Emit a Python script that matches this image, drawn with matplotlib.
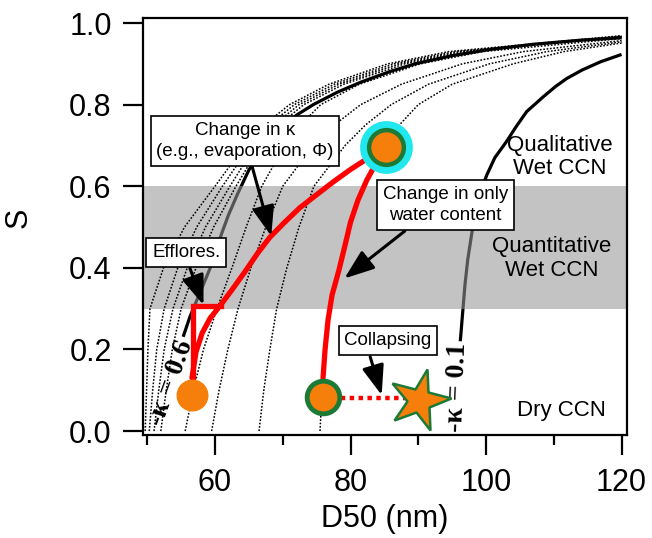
import matplotlib
matplotlib.use("Agg")
import matplotlib.pyplot as plt
from matplotlib.markers import MarkerStyle
from matplotlib.transforms import Affine2D

plt.rcParams['font.family'] = ['Liberation Sans', 'DejaVu Sans']

# dotted kappa family: D50 (nm) read at these S levels, plus S where each reaches D=120
dot_S = [0.0, 0.1, 0.2, 0.3, 0.4, 0.5, 0.6, 0.7, 0.75, 0.8, 0.85, 0.9, 0.93]
dotted_D = [
    [49.7, 49.9, 50.1, 50.4, 52.4, 55.5, 60.0, 64.4, 67.2, 71.0, 76.8, 85.5, 94.5],
    [50.3, 50.8, 51.4, 52.5, 54.5, 57.3, 61.1, 65.2, 68.0, 71.7, 77.6, 86.4, 95.5],
    [51.0, 51.7, 52.5, 53.8, 55.9, 58.6, 62.2, 66.0, 68.7, 72.4, 78.3, 87.2, 96.3],
    [52.0, 52.8, 53.7, 55.0, 57.2, 59.8, 63.1, 66.7, 69.4, 73.1, 79.0, 88.0, 97.2],
    [55.6, 56.8, 58.3, 60.3, 62.5, 64.6, 66.9, 70.3, 72.6, 75.6, 81.3, 90.3, 99.5],
    [59.5, 60.6, 61.9, 63.4, 65.3, 67.5, 70.0, 74.5, 77.6, 81.5, 87.5, 96.5, 105.5],
    [66.5, 67.2, 68.1, 69.1, 70.6, 72.4, 74.6, 79.2, 82.2, 86.0, 91.5, 100.5, 109.0],
    [75.5, 75.8, 76.4, 77.0, 78.3, 79.7, 82.0, 85.3, 87.2, 90.0, 95.0, 104.0, 111.5],
]
dotted_S_end = [0.969, 0.968, 0.967, 0.966, 0.962, 0.957, 0.954, 0.951]

# solid labelled curves
k06_D = [55.3, 56.3, 57.3, 58.3, 59.3, 60.3, 61.0, 62.0, 63.3, 65.0, 67.4, 70.3, 72.1,
         74.5, 78.0, 81.5, 85.8, 89.5, 95.0, 100.5, 107.0, 114.0, 120.0]
k06_S = [0.231, 0.28, 0.32, 0.36, 0.40, 0.45, 0.485, 0.53, 0.58, 0.64, 0.70, 0.75, 0.775,
         0.80, 0.83, 0.855, 0.881, 0.90, 0.92, 0.935, 0.948, 0.958, 0.964]
k01_D = [96.2, 96.6, 96.9, 97.3, 97.9, 98.7, 99.5, 100.1, 101.3, 103.0, 104.4, 106.0,
         108.5, 110.3, 111.9, 114.2, 116.9, 120.0]
k01_S = [0.22, 0.30, 0.36, 0.42, 0.485, 0.55, 0.60, 0.627, 0.67, 0.709, 0.745, 0.783,
         0.82, 0.845, 0.864, 0.885, 0.905, 0.923]

# red paths
red1_D = [56.6, 57.2, 58.1, 59.3, 60.7, 62.5, 64.4, 66.3, 68.1, 70.3, 72.5, 74.9, 77.4,
          79.9, 82.6, 85.2]
red1_S = [0.130, 0.194, 0.240, 0.277, 0.306, 0.346, 0.390, 0.436, 0.475, 0.512, 0.547,
          0.578, 0.610, 0.640, 0.669, 0.696]
red2_D = [75.94, 76.24, 76.68, 77.27, 78.3, 79.2, 80.0, 81.1, 82.4, 83.8, 85.2]
red2_S = [0.130, 0.199, 0.272, 0.333, 0.395, 0.456, 0.512, 0.566, 0.615, 0.657, 0.696]
efflo_D = [56.8, 56.8, 60.9]
efflo_S = [0.13, 0.306, 0.306]
collapse_D = [76.0, 88.0]
collapse_S = [0.080, 0.080]

# markers
dry_pt = (56.55, 0.088)
wet_pt = (76.0, 0.084)
drop_pt = (85.3, 0.697)
star_pt = (90.07, 0.076)

band = (0.3, 0.6)
xmajor = [60, 80, 100, 120]
xminor = [50, 70, 90, 110]
yticks = [0.0, 0.2, 0.4, 0.6, 0.8, 1.0]

fig = plt.figure(figsize=(6.52, 5.38), dpi=100)
ax = fig.add_axes([0.2193, 0.1914, 0.7424, 0.7751])
ax.set_xlim(49.37, 120.81)
ax.set_ylim(-0.0098, 1.0123)

ax.plot(k06_D, k06_S, color='black', lw=2.3, zorder=1, solid_capstyle='butt')
ax.plot(k01_D, k01_S, color='black', lw=2.3, zorder=1, solid_capstyle='butt')
ax.axhspan(band[0], band[1], color='#969696', alpha=0.565, lw=0, zorder=2)

for D, s_end in zip(dotted_D, dotted_S_end):
    ax.plot(D + [120.0], dot_S + [s_end], color='black', lw=1.1,
            linestyle=(0, (1.1, 1.1)), zorder=3)

red = '#ff0000'
ax.plot(red1_D, red1_S, color=red, lw=3.8, zorder=4, solid_capstyle='round',
        solid_joinstyle='round')
ax.plot(red2_D, red2_S, color=red, lw=3.8, zorder=4, solid_capstyle='round',
        solid_joinstyle='round')
ax.plot(efflo_D, efflo_S, color=red, lw=3.8, zorder=4, solid_joinstyle='miter')
ax.plot(collapse_D, collapse_S, color=red, lw=3.2, linestyle=(0, (1, 1)), zorder=4)

orange = '#f57f0a'
green = '#1d7a36'
ax.plot(*dry_pt, 'o', ms=22, color=orange, mec=orange, zorder=5)
ax.plot(*wet_pt, 'o', ms=23.5, color=orange, mec=green, mew=3.5, zorder=5)
ax.plot(*drop_pt, 'o', ms=38, color='#20e8ee', mec='none', zorder=5)
ax.plot(*drop_pt, 'o', ms=25, color=orange, mec=green, mew=3.2, zorder=6)
star = MarkerStyle('*', transform=Affine2D().rotate_deg(-15))
ax.plot(*star_pt, marker=star, ms=46, color=orange, mec=green, mew=1.8, zorder=6)

# curve labels
serif = ['Liberation Serif', 'DejaVu Serif']
ax.text(53.5, 0.118, '-κ = 0.6', family=serif, fontsize=20, fontweight='bold',
        rotation=70, ha='center', va='center', zorder=5)
ax.text(95.7, 0.107, '-κ = 0.1', family=serif, fontsize=20, fontweight='bold',
        rotation=88, ha='center', va='center', zorder=5)

# region labels
ax.text(110.9, 0.672, 'Qualitative\nWet CCN', fontsize=16, ha='center', va='center',
        linespacing=1.15, zorder=5)
ax.text(109.7, 0.423, 'Quantitative\nWet CCN', fontsize=16, ha='center', va='center',
        linespacing=1.15, zorder=5)
ax.text(111.1, 0.051, 'Dry CCN', fontsize=16, ha='center', va='center', zorder=5)

# annotation boxes with arrows
box = dict(boxstyle='square,pad=0.3', fc='white', ec='black', lw=1.2)
arrow = dict(arrowstyle='-|>,head_length=0.7,head_width=0.26', color='black', lw=2.2,
             mutation_scale=26, shrinkA=0, shrinkB=0)
notes = [
    ('Change in κ\n(e.g., evaporation, Φ)', (64.4, 0.711), (65.5, 0.647), (68.3, 0.478)),
    ('Change in only\nwater content', (94.0, 0.554), (88.0, 0.490), (79.1, 0.374)),
    ('Efflores.', (55.75, 0.4375), (56.3, 0.399), (58.3, 0.309)),
    ('Collapsing', (85.5, 0.222), (82.9, 0.182), (84.6, 0.088)),
]
for label, center, start, tip in notes:
    ax.annotate('', xy=tip, xytext=start, arrowprops=arrow, zorder=7)
    ax.text(*center, label, fontsize=13.5, ha='center', va='center', bbox=box,
            linespacing=1.3, zorder=8)

ax.set_xticks(xmajor)
ax.set_xticks(xminor, minor=True)
ax.set_yticks(yticks)
ax.set_yticklabels([f'{v:.1f}' for v in yticks])
ax.tick_params(axis='both', which='major', direction='out', length=14.5, width=1.6,
               labelsize=22)
ax.tick_params(axis='x', which='major', pad=9)
ax.tick_params(axis='y', which='major', pad=8)
ax.tick_params(axis='x', which='minor', direction='out', length=7.5, width=1.6)
for sp in ax.spines.values():
    sp.set_linewidth(1.6)

ax.set_xlabel('D50 (nm)', fontsize=22)
ax.set_ylabel('S', fontsize=22)
ax.xaxis.set_label_coords(0.5, -0.165)
ax.yaxis.set_label_coords(-0.225, 0.52)

fig.savefig('out.png', dpi=100)
